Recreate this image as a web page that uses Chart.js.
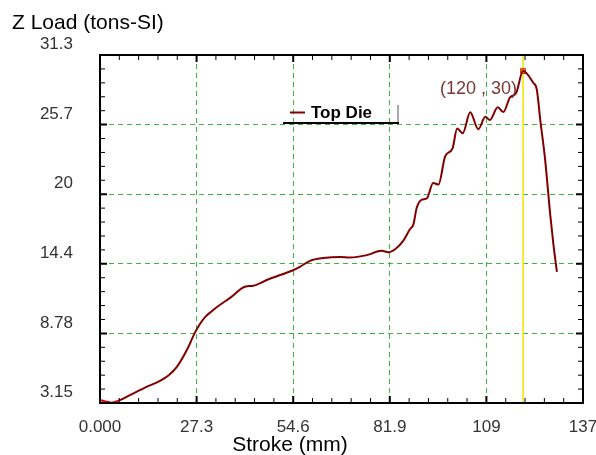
<!DOCTYPE html>
<html>
<head>
<meta charset="utf-8">
<script src="https://cdn.jsdelivr.net/npm/chart.js@4.4.0/dist/chart.umd.min.js"></script>
<style>
  html, body { margin: 0; padding: 0; background: #fff; }
  #wrap { width: 596px; height: 455px; }
</style>
</head>
<body>
<div id="wrap"><canvas id="grafico" width="596" height="455"></canvas></div>
<script>
const titleY = 'Z Load (tons-SI)';
const titleX = 'Stroke (mm)';
const seriesName = 'Top Die';

const xTickValues = [0, 27.4, 54.8, 82.2, 109.6, 137];
const xTickLabels = ['0.000', '27.3', '54.6', '81.9', '109', '137'];
const yTickValues = [3.15, 8.78, 14.41, 20.04, 25.67, 31.3];
const yTickLabels = ['3.15', '8.78', '14.4', '20', '25.7', '31.3'];

const strokeMm = [0, 1.5, 3.2, 5.2, 8.5, 13.2, 17.0, 19.5, 21.8, 24.6, 27.0, 28.4, 29.8, 31.7, 33.1, 36.9, 41.1, 43.5,
  47.3, 51.1, 54.4, 56.7, 59.6, 63.3, 68.1, 70.9, 75.7, 79.9, 81.8, 83.7, 86.0, 87.9, 88.9, 89.8,
  91.3, 92.7, 94.5, 96.0, 97.9, 100.0, 101.3, 102.9, 105.0, 107.3, 109.3, 110.6, 112.8, 114.4,
  116.3, 118.0, 120.0, 122.9, 123.9, 124.9, 126.2, 127.7, 128.6, 129.6];
const loadTons = [3.40, 3.28, 3.18, 3.33, 3.79, 4.45, 4.94, 5.40, 6.07, 7.41, 8.88, 9.56, 10.1, 10.57, 10.9, 11.65, 12.56, 12.64,
  13.1, 13.5, 13.85, 14.17, 14.65, 14.87, 14.97, 14.92, 15.11, 15.46, 15.35, 15.59, 16.26, 17.2, 17.6, 18.9,
  19.6, 19.7, 20.95, 20.82, 23.1, 23.75, 25.35, 24.97, 26.66, 25.3, 26.3, 26.05, 27.08, 26.68,
  27.87, 28.2, 30.0, 29.05, 28.5, 26.0, 23.0, 18.4, 16.0, 13.75];

const peakX = [120];
const peakY = [30];

const fuente = 'Liberation Sans, Arial, sans-serif';

const dibujoExtra = {
  id: 'dibujoExtra',
  beforeDatasetsDraw(chart) {
    const { ctx, chartArea: a, scales: { x } } = chart;
    const px = x.getPixelForValue(peakX[0]);
    ctx.save();
    ctx.strokeStyle = '#f2e600';
    ctx.lineWidth = 1.5;
    ctx.beginPath();
    ctx.moveTo(px, a.top);
    ctx.lineTo(px, a.bottom);
    ctx.stroke();
    ctx.restore();
  },
  afterDatasetsDraw(chart) {
    const { ctx, chartArea: a, scales: { x, y } } = chart;
    ctx.save();
    ctx.strokeStyle = '#000';

    // marcas menores y mayores hacia dentro
    const marcas = (vals, scale, horiz) => {
      for (let i = 0; i < vals.length - 1; i++) {
        for (let j = 0; j < 5; j++) {
          const v = vals[i] + j * (vals[i + 1] - vals[i]) / 5;
          if (i === 0 && j === 0) continue;
          const p = scale.getPixelForValue(v);
          const len = j === 0 ? 7 : 5;
          ctx.lineWidth = j === 0 ? 2 : 1;
          ctx.beginPath();
          if (horiz) {
            ctx.moveTo(p, a.bottom); ctx.lineTo(p, a.bottom - len);
            ctx.moveTo(p, a.top); ctx.lineTo(p, a.top + len);
          } else {
            ctx.moveTo(a.left, p); ctx.lineTo(a.left + len, p);
            ctx.moveTo(a.right, p); ctx.lineTo(a.right - len, p);
          }
          ctx.stroke();
        }
      }
    };
    marcas(xTickValues, x, true);
    marcas(yTickValues, y, false);

    ctx.lineWidth = 2;
    ctx.strokeRect(a.left, a.top, a.right - a.left, a.bottom - a.top);

    // etiqueta del pico
    const mx = x.getPixelForValue(peakX[0]);
    const my = y.getPixelForValue(peakY[0]);
    ctx.fillStyle = '#7a3838';
    ctx.font = '18px ' + fuente;
    ctx.textAlign = 'right';
    ctx.textBaseline = 'middle';
    ctx.fillText('(' + peakX[0] + ' , ' + peakY[0] + ')', mx - 6, my + 18);
    ctx.restore();
  },
  afterDraw(chart) {
    const { ctx } = chart;
    ctx.save();
    ctx.fillStyle = '#000';
    ctx.font = '21px ' + fuente;
    ctx.textAlign = 'left';
    ctx.textBaseline = 'alphabetic';
    ctx.fillText(titleY, 12, 28.5);
    ctx.textAlign = 'center';
    ctx.fillText(titleX, 290, 451);

    // leyenda
    ctx.textAlign = 'left';
    ctx.strokeStyle = '#aaa';
    ctx.lineWidth = 2;
    ctx.beginPath();
    ctx.moveTo(398, 105); ctx.lineTo(398, 123);
    ctx.stroke();
    ctx.strokeStyle = '#000';
    ctx.beginPath();
    ctx.moveTo(283, 123); ctx.lineTo(399, 123);
    ctx.stroke();
    ctx.strokeStyle = chart.data.datasets[0].borderColor;
    ctx.beginPath();
    ctx.moveTo(290, 112.5); ctx.lineTo(305, 112.5);
    ctx.stroke();
    ctx.fillStyle = '#000';
    ctx.font = 'bold 17px ' + fuente;
    ctx.textBaseline = 'middle';
    ctx.fillText(seriesName, 311, 113);
    ctx.restore();
  }
};

const gridColor = ctx => (ctx.index === 0 || ctx.index === 5) ? 'rgba(0,0,0,0)' : '#3cb43c';

new Chart(document.getElementById('grafico'), {
  type: 'line',
  data: {
    datasets: [{
      label: seriesName,
      data: strokeMm.map((v, i) => ({ x: v, y: loadTons[i] })),
      borderColor: '#800000',
      borderWidth: 2,
      pointRadius: 0,
      cubicInterpolationMode: 'monotone',
      segment: { borderColor: c => c.p1.parsed.x <= 5.2 ? '#e00000' : undefined }
    }, {
      label: 'pico',
      data: peakX.map((v, i) => ({ x: v, y: peakY[i] })),
      showLine: false,
      pointStyle: 'rect',
      pointRadius: 3.5,
      backgroundColor: '#ff7010',
      borderColor: '#c04000',
      borderWidth: 1
    }]
  },
  options: {
    responsive: false,
    animation: false,
    layout: { padding: { top: 55, right: 13, bottom: 0, left: 0 } },
    plugins: { legend: { display: false }, tooltip: { enabled: false }, title: { display: false } },
    scales: {
      x: {
        type: 'linear', min: 0, max: 137,
        afterBuildTicks: s => { s.ticks = xTickValues.map(v => ({ value: v })); },
        ticks: {
          callback: (v, i) => xTickLabels[i],
          font: { family: fuente, size: 17 }, color: '#333',
          padding: 14, maxRotation: 0, autoSkip: false
        },
        grid: { color: gridColor, drawTicks: false, lineWidth: 1 },
        border: { display: false, dash: [5, 4] },
        afterFit: s => { s.height = 52; s.paddingLeft = 0; s.paddingRight = 0; }
      },
      y: {
        type: 'linear', min: 3.15, max: 31.3,
        afterBuildTicks: s => { s.ticks = yTickValues.map(v => ({ value: v })); },
        ticks: {
          callback: (v, i) => yTickLabels[i],
          font: { family: fuente, size: 17 }, color: '#333',
          padding: 27, labelOffset: -10.5
        },
        grid: { color: gridColor, drawTicks: false, lineWidth: 1 },
        border: { display: false, dash: [5, 4] },
        afterFit: s => { s.width = 100; s.paddingTop = 0; s.paddingBottom = 0; }
      }
    }
  },
  plugins: [dibujoExtra]
});
</script>
</body>
</html>
